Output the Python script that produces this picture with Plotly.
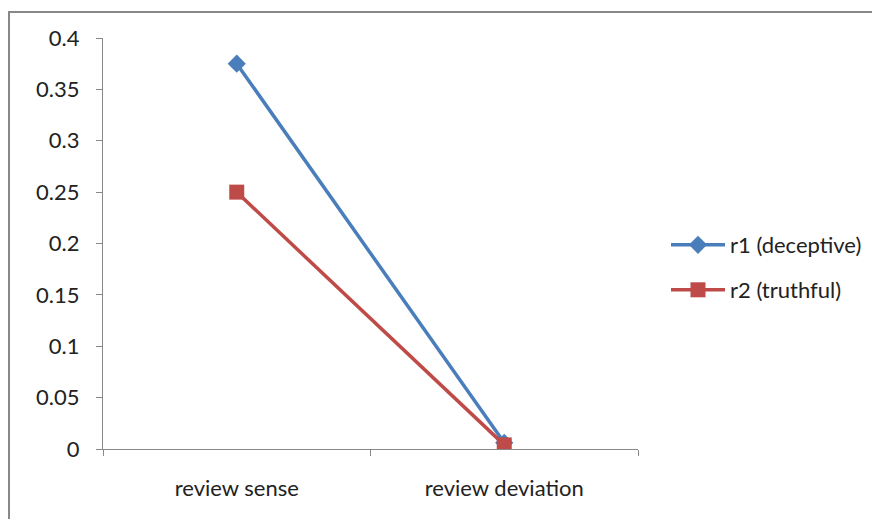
import plotly.graph_objects as go

categories = ["review sense", "review deviation"]
r1_values = [0.375, 0.006]
r2_values = [0.25, 0.004]
series_names = ["r1 (deceptive)", "r2 (truthful)"]
y_ticks = [0, 0.05, 0.1, 0.15, 0.2, 0.25, 0.3, 0.35, 0.4]
y_tick_labels = ["0", "0.05", "0.1", "0.15", "0.2", "0.25", "0.3", "0.35", "0.4"]

FONT = "Lato"
OFF = 8  # page body margin
W, H = 880, 519
L, T = 103 - OFF, 38 - OFF
pw, ph = 535, 411
R = W - L - pw
B = H - T - ph

fig = go.Figure()
fig.add_trace(go.Scatter(
    x=categories, y=r1_values, name=series_names[0], mode="lines+markers",
    line=dict(color="#4A7EBB", width=3.5),
    marker=dict(symbol="diamond", size=14, color="#4A7EBB"),
    legend="legend"))
fig.add_trace(go.Scatter(
    x=categories, y=r2_values, name=series_names[1], mode="lines+markers",
    line=dict(color="#BE4B48", width=3.5),
    marker=dict(symbol="square", size=15, color="#BE4B48"),
    legend="legend2"))

def px_x(p):  # screenshot pixel -> paper
    return (p - OFF - L) / pw

def px_y(p):
    return (H - B - (p - OFF)) / ph

fs = 22
fig.update_layout(
    width=W, height=H,
    margin=dict(l=L, r=R, t=T, b=B),
    paper_bgcolor="white", plot_bgcolor="white",
    font=dict(family=FONT, size=fs, color="#222"),
    showlegend=True,
    legend=dict(x=px_x(666), y=px_y(245), xanchor="left", yanchor="middle",
                font=dict(size=fs), bgcolor="rgba(0,0,0,0)", itemwidth=54),
    legend2=dict(x=px_x(666), y=px_y(290), xanchor="left", yanchor="middle",
                 font=dict(size=fs), bgcolor="rgba(0,0,0,0)", itemwidth=54),
    xaxis=dict(type="category", range=[-0.5, 1.5], showgrid=False,
               showline=True, linecolor="#888", linewidth=1.2,
               ticks="outside", tickson="boundaries", ticklen=6, tickcolor="#888",
               ticklabelstandoff=19, tickfont=dict(size=fs, family=FONT),
               zeroline=False),
    yaxis=dict(range=[0, 0.4], tickvals=y_ticks, ticktext=y_tick_labels,
               showgrid=False, showline=True, linecolor="#888", linewidth=1.2,
               ticks="outside", ticklen=6, tickcolor="#888",
               ticklabelstandoff=12, tickfont=dict(size=fs, family=FONT),
               zeroline=False),
)

fig.add_shape(type="rect", xref="paper", yref="paper",
              x0=px_x(9), x1=px_x(W + 40), y0=px_y(H + 40), y1=px_y(12),
              line=dict(color="#888", width=2), fillcolor="rgba(0,0,0,0)",
              layer="below")

fig.write_html("out.html")
